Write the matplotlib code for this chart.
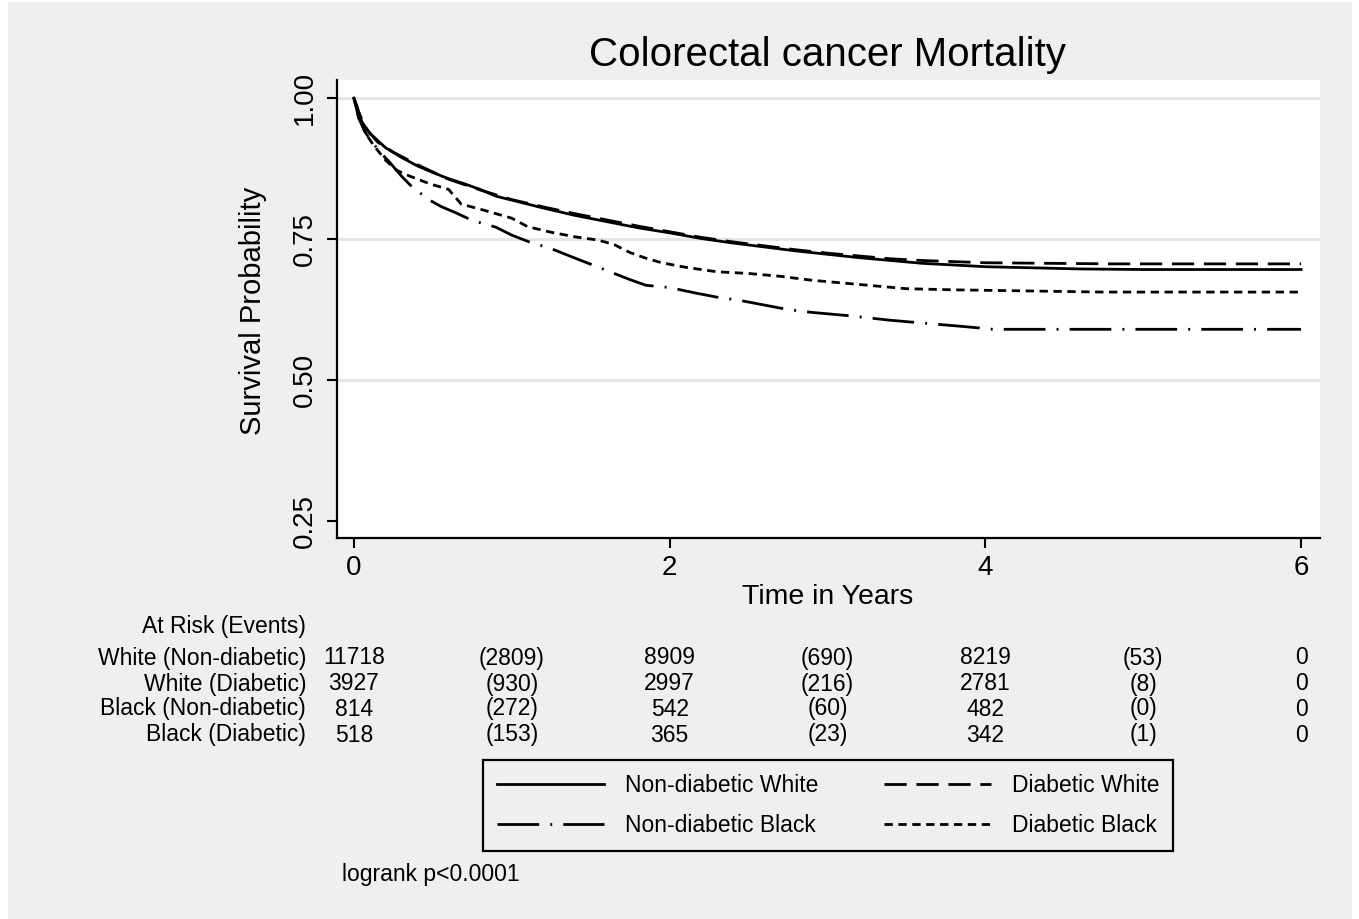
import numpy as np
import matplotlib.pyplot as plt
from matplotlib.patches import Rectangle
from matplotlib.transforms import blended_transform_factory

plt.rcParams['font.family'] = ['Liberation Sans', 'DejaVu Sans']

# ---------------- data ----------------
t_nw = [0, 0.02, 0.05, 0.1, 0.15, 0.2, 0.3, 0.4, 0.5, 0.6, 0.7, 0.8, 0.9, 1.0, 1.2, 1.4, 1.6, 1.8,
        2.0, 2.2, 2.4, 2.6, 2.8, 3.0, 3.2, 3.4, 3.6, 3.8, 4.0, 4.3, 4.6, 5.0, 6.0]
s_nw = [1.0, 0.985, 0.958, 0.938, 0.925, 0.912, 0.895, 0.880, 0.868, 0.857, 0.848, 0.838, 0.826,
        0.819, 0.805, 0.792, 0.781, 0.770, 0.761, 0.751, 0.743, 0.736, 0.729, 0.723, 0.717, 0.712,
        0.707, 0.704, 0.701, 0.699, 0.697, 0.696, 0.696]

t_dw = [0, 0.03, 0.08, 0.15, 0.25, 0.4, 0.6, 0.8, 1.0, 1.2, 1.4, 1.6, 1.8, 2.0, 2.2, 2.4, 2.6, 2.8,
        3.0, 3.2, 3.4, 3.6, 3.8, 4.0, 4.4, 4.8, 6.0]
s_dw = [1.0, 0.975, 0.945, 0.922, 0.904, 0.882, 0.856, 0.837, 0.820, 0.807, 0.795, 0.784, 0.773,
        0.763, 0.753, 0.745, 0.738, 0.731, 0.725, 0.720, 0.715, 0.712, 0.710, 0.708, 0.707, 0.706, 0.706]

t_nb = [0, 0.03, 0.07, 0.12, 0.18, 0.23, 0.3, 0.37, 0.48, 0.55, 0.65, 0.75, 0.9, 1.0, 1.11, 1.25,
        1.43, 1.55, 1.64, 1.75, 1.85, 2.0, 2.17, 2.3, 2.45, 2.6, 2.75, 2.9, 3.14, 3.4, 3.65, 3.9, 4.05, 6.0]
s_nb = [1.0, 0.965, 0.940, 0.920, 0.900, 0.885, 0.862, 0.842, 0.819, 0.808, 0.796, 0.783, 0.771,
        0.757, 0.745, 0.733, 0.713, 0.700, 0.690, 0.678, 0.668, 0.664, 0.654, 0.647, 0.641, 0.633,
        0.625, 0.620, 0.614, 0.606, 0.600, 0.594, 0.590, 0.590]

t_db = [0, 0.03, 0.08, 0.12, 0.2, 0.27, 0.35, 0.48, 0.6, 0.68, 0.8, 0.9, 1.0, 1.1, 1.25, 1.4, 1.55,
        1.65, 1.75, 1.85, 1.95, 2.1, 2.3, 2.5, 2.7, 2.9, 3.1, 3.3, 3.5, 3.8, 4.75, 6.0]
s_db = [1.0, 0.965, 0.935, 0.918, 0.890, 0.872, 0.862, 0.848, 0.838, 0.812, 0.803, 0.795, 0.787,
        0.772, 0.762, 0.754, 0.748, 0.740, 0.726, 0.716, 0.708, 0.700, 0.692, 0.689, 0.684, 0.677,
        0.672, 0.667, 0.662, 0.660, 0.656, 0.656]

labels = ['Non-diabetic White', 'Diabetic White', 'Non-diabetic Black', 'Diabetic Black']

# at-risk table
row_names = ['White (Non-diabetic)', 'White (Diabetic)', 'Black (Non-diabetic)', 'Black (Diabetic)']
table_times = [0, 1, 2, 3, 4, 5, 6]
table_vals = [
    ['11718', '(2809)', '8909', '(690)', '8219', '(53)', '0'],
    ['3927', '(930)', '2997', '(216)', '2781', '(8)', '0'],
    ['814', '(272)', '542', '(60)', '482', '(0)', '0'],
    ['518', '(153)', '365', '(23)', '342', '(1)', '0'],
]

# ---------------- figure ----------------
W, H = 1359, 919
bg = '#efefef'
fig = plt.figure(figsize=(W / 100, H / 100), dpi=100, facecolor='white')
fig.patches.append(Rectangle((8 / W, 0), (1352 - 8) / W, 1 - 2 / H,
                             transform=fig.transFigure, facecolor=bg, edgecolor='none', zorder=-10))

ax = fig.add_axes([337 / W, 1 - 538 / H, (1320 - 337) / W, (538 - 80) / H])
ax.set_facecolor('white')

lw = 2.0
l_nw, = ax.plot(t_nw, s_nw, color='black', lw=lw, ls='-', label=labels[0])
l_dw, = ax.plot(t_dw, s_dw, color='black', lw=lw, ls=(0, (8, 3.5)), label=labels[1])
l_nb, = ax.plot(t_nb, s_nb, color='black', lw=lw, ls=(0, (15, 4, 0.7, 4)), label=labels[2])
l_db, = ax.plot(t_db, s_db, color='black', lw=lw, ls=(0, (3, 2)), label=labels[3])

for g in [0.5, 0.75, 1.0]:
    ax.axhline(g, color='#e4e4e4', lw=2, zorder=0)

ax.set_xlim(-0.107, 6.12)
ax.set_ylim(0.22, 1.032)
ax.set_xticks([0, 2, 4, 6])
ax.set_yticks([0.25, 0.50, 0.75, 1.00])
ax.set_yticklabels(['0.25', '0.50', '0.75', '1.00'], rotation=90, va='center')
ax.tick_params(axis='both', length=7, width=1.5, labelsize=20, color='black')
ax.tick_params(axis='x', pad=5)
ax.tick_params(axis='y', pad=7)
for side in ['top', 'right']:
    ax.spines[side].set_visible(False)
for side in ['left', 'bottom']:
    ax.spines[side].set_linewidth(1.6)

fig.text(827.5 / W, 1 - 55 / H, 'Colorectal cancer Mortality', ha='center', va='center', fontsize=29)
fig.text(827.5 / W, 1 - 597 / H, 'Time in Years', ha='center', va='center', fontsize=20.5)
fig.text(253 / W, 1 - 311 / H, 'Survival Probability', ha='center', va='center', fontsize=21, rotation=90)

# at-risk table
tr = blended_transform_factory(ax.transData, fig.transFigure)
fs_tab = 16.5
fig.text(306 / W, 1 - 627 / H, 'At Risk (Events)', ha='right', va='center', fontsize=fs_tab)
row_y = [658, 684, 709, 735]
for name, vals, py in zip(row_names, table_vals, row_y):
    fig.text(306 / W, 1 - py / H, name, ha='right', va='center', fontsize=fs_tab)
    for tt, v in zip(table_times, vals):
        ax.text(tt, 1 - py / H, v, transform=tr, ha='center', va='center', fontsize=fs_tab)

# legend filled column-wise, so order gives rows: NW DW / NB DB
leg = fig.legend([l_nw, l_nb, l_dw, l_db], [labels[0], labels[2], labels[1], labels[3]],
                 loc='upper left', bbox_to_anchor=(483 / W, 1 - 760 / H), borderaxespad=0,
                 ncol=2, fontsize=16.5, frameon=True, fancybox=False, handlelength=4.7,
                 handletextpad=0.9, columnspacing=2.85, labelspacing=0.75, borderpad=0.6)
leg.get_frame().set_edgecolor('black')
leg.get_frame().set_linewidth(1.6)
leg.get_frame().set_facecolor(bg)
leg.get_frame().set_alpha(1)

fig.text(342 / W, 1 - 875 / H, 'logrank p<0.0001', ha='left', va='center', fontsize=16.5)

fig.savefig('out.png', dpi=100, facecolor=fig.get_facecolor())
